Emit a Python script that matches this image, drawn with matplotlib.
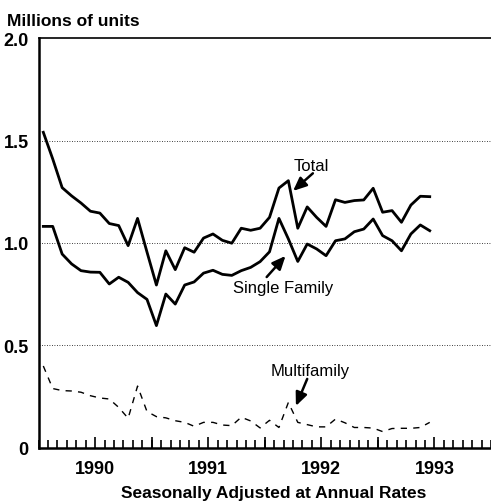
import numpy as np
import matplotlib.pyplot as plt

# monthly housing starts, Jan 1990 - Jun 1993 (millions of units, SAAR)
total = [1.54, 1.41, 1.27, 1.23, 1.195, 1.155, 1.146, 1.095, 1.085, 0.987, 1.12, 0.956,
         0.795, 0.962, 0.87, 0.977, 0.955, 1.024, 1.044, 1.013, 0.999, 1.072, 1.062, 1.072,
         1.125, 1.268, 1.304, 1.072, 1.176, 1.125, 1.081, 1.211, 1.198, 1.207, 1.21, 1.267,
         1.15, 1.158, 1.101, 1.185, 1.228, 1.226]
single = [1.081, 1.081, 0.946, 0.898, 0.865, 0.858, 0.857, 0.80, 0.833, 0.808, 0.758, 0.725,
          0.597, 0.751, 0.702, 0.795, 0.81, 0.853, 0.867, 0.847, 0.842, 0.865, 0.881, 0.909,
          0.957, 1.12, 1.02, 0.91, 0.995, 0.971, 0.938, 1.011, 1.02, 1.055, 1.068, 1.117,
          1.036, 1.011, 0.962, 1.044, 1.088, 1.06]
multi = [0.40, 0.29, 0.28, 0.278, 0.272, 0.255, 0.244, 0.239, 0.198, 0.145, 0.302, 0.178,
         0.153, 0.147, 0.133, 0.125, 0.106, 0.125, 0.125, 0.112, 0.109, 0.15, 0.132, 0.098,
         0.135, 0.10, 0.222, 0.125, 0.114, 0.103, 0.103, 0.141, 0.123, 0.10, 0.10, 0.097,
         0.08, 0.095, 0.096, 0.096, 0.10, 0.125]
years = ['1990', '1991', '1992', '1993']
yticks = [0, 0.5, 1.0, 1.5, 2.0]
ytick_labels = ['0', '0.5', '1.0', '1.5', '2.0']

months = np.arange(len(total)) + 0.5   # mid-month positions
nmonths = 12 * len(years)

plt.rcParams['font.family'] = ['Liberation Sans', 'DejaVu Sans']

fig = plt.figure(figsize=(4.91, 5.02), dpi=100)
ax = fig.add_axes([0.0786, 0.1056, 0.9214, 0.8167])

ax.plot(months, total, color='black', lw=2.0)
ax.plot(months, single, color='black', lw=2.0)
ax.plot(months, multi, color='black', lw=1.0, dashes=(4.5, 4.5))

ax.set_xlim(0, nmonths)
ax.set_ylim(0, 2.0)

# y axis
ax.set_yticks(yticks)
ax.set_yticklabels(ytick_labels, fontsize=13, fontweight='bold')
ax.tick_params(axis='y', length=0, pad=7)
for v in yticks[1:-1]:
    ax.axhline(v, color='black', lw=0.6, ls=(0, (1, 2)), zorder=0)

# x axis: labels at mid-year, small ticks every month, tall ticks at year ends
ax.set_xticks(np.arange(len(years)) * 12 + 6)
ax.set_xticklabels(years, fontsize=13, fontweight='bold')
ax.set_xticks(np.arange(0, nmonths + 1), minor=True)
ax.tick_params(axis='x', which='major', direction='in', length=8, width=1.2, pad=9)
ax.tick_params(axis='x', which='minor', direction='in', length=5.5, width=1.2)
ax.vlines(np.arange(1, len(years)) * 12, 0, 0.028, transform=ax.get_xaxis_transform(),
          color='black', lw=1.2)

ax.spines['right'].set_visible(False)
ax.spines['left'].set_linewidth(1.8)
ax.spines['bottom'].set_linewidth(1.8)
ax.spines['top'].set_linewidth(1.2)

ax.set_xlabel('Seasonally Adjusted at Annual Rates', fontsize=12.5, fontweight='bold')
ax.xaxis.set_label_coords(0.52, -0.09)
fig.text(0.014, 0.957, 'Millions of units', fontsize=12.5, fontweight='bold',
         va='center', ha='left')

arrow = dict(arrowstyle='-|>,head_length=0.8,head_width=0.35', color='black', lw=1.8,
             shrinkA=0, shrinkB=0)
ax.text(28.9, 1.38, 'Total', fontsize=12, ha='center', va='center')
ax.annotate('', xy=(27.0, 1.254), xytext=(29.1, 1.34), arrowprops=arrow)
ax.text(25.97, 0.785, 'Single Family', fontsize=12, ha='center', va='center')
ax.annotate('', xy=(26.2, 0.937), xytext=(24.2, 0.834), arrowprops=arrow)
ax.text(28.8, 0.376, 'Multifamily', fontsize=12, ha='center', va='center')
ax.annotate('', xy=(27.3, 0.205), xytext=(28.5, 0.337), arrowprops=arrow)

plt.savefig('out.png', dpi=100)
